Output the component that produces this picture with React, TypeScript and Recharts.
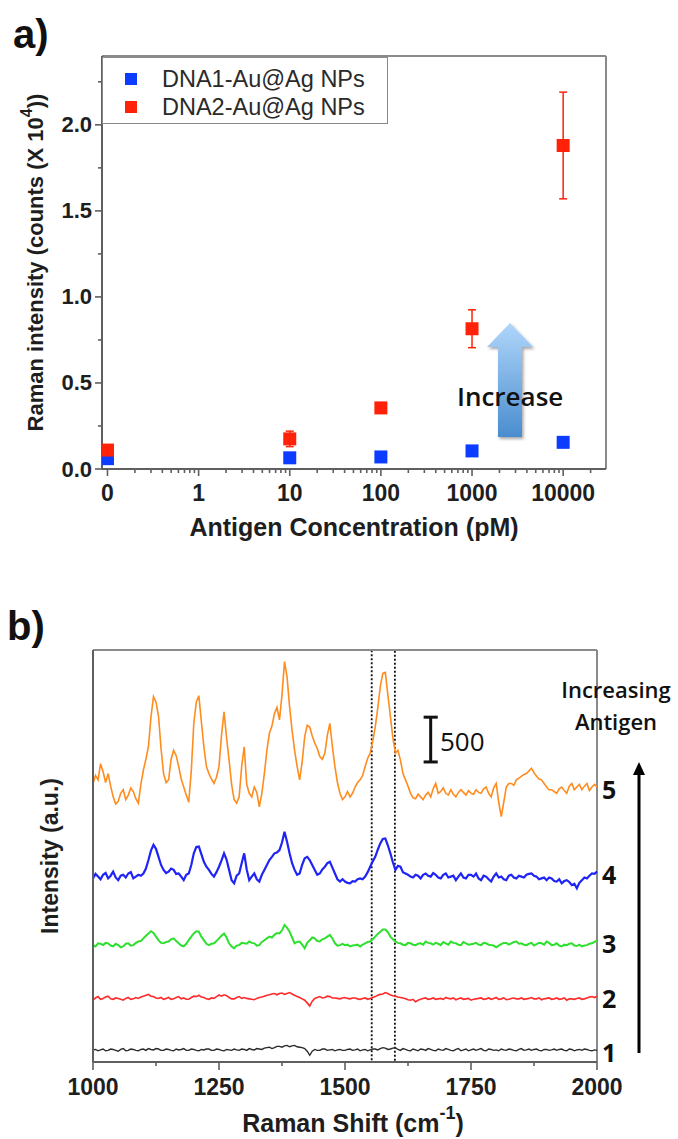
import React from 'react';
import {
  ScatterChart,
  Scatter,
  XAxis,
  YAxis,
  ZAxis,
  ErrorBar,
  Legend,
  ReferenceLine,
  ReferenceArea,
  LineChart,
  Line,
  Label,
} from 'recharts';

// ---------- panel a: Raman intensity vs antigen concentration ----------
const CONCENTRATIONS = [0, 10, 100, 1000, 10000]; // pM
const DNA1_INTENSITY = [0.06, 0.065, 0.07, 0.105, 0.155]; // counts x 10^4
const DNA1_ERROR = [0.01, 0.01, 0.01, 0.015, 0.02];
const DNA2_INTENSITY = [0.11, 0.175, 0.355, 0.815, 1.88];
const DNA2_ERROR = [0.03, 0.045, 0.015, 0.11, 0.31];
const CONC_TICKS = [0, 1, 10, 100, 1000, 10000];
const CONC_TICK_LABELS = ['0', '1', '10', '100', '1000', '10000'];
const INTENSITY_TICKS = [0, 0.5, 1.0, 1.5, 2.0];
const INTENSITY_MINOR_TICKS = [0.25, 0.75, 1.25, 1.75, 2.25];

// ---------- panel b: spectra, 1000-2000 cm-1 ----------
// readings on the 10 cm-1 grid ...
const RAMAN_SHIFT = [
  1000, 1010, 1020, 1030, 1040, 1050, 1060, 1070, 1080, 1090,
  1100, 1110, 1120, 1130, 1140, 1150, 1160, 1170, 1180, 1190,
  1200, 1210, 1220, 1230, 1240, 1250, 1260, 1270, 1280, 1290,
  1300, 1310, 1320, 1330, 1340, 1350, 1360, 1370, 1380, 1390,
  1400, 1410, 1420, 1430, 1440, 1450, 1460, 1470, 1480, 1490,
  1500, 1510, 1520, 1530, 1540, 1550, 1560, 1570, 1580, 1590,
  1600, 1610, 1620, 1630, 1640, 1650, 1660, 1670, 1680, 1690,
  1700, 1710, 1720, 1730, 1740, 1750, 1760, 1770, 1780, 1790,
  1800, 1810, 1820, 1830, 1840, 1850, 1860, 1870, 1880, 1890,
  1900, 1910, 1920, 1930, 1940, 1950, 1960, 1970, 1980, 1990,
  2000,
];
// ... and at the half steps in between
const RAMAN_SHIFT_MID = [
  1005, 1015, 1025, 1035, 1045, 1055, 1065, 1075, 1085, 1095,
  1105, 1115, 1125, 1135, 1145, 1155, 1165, 1175, 1185, 1195,
  1205, 1215, 1225, 1235, 1245, 1255, 1265, 1275, 1285, 1295,
  1305, 1315, 1325, 1335, 1345, 1355, 1365, 1375, 1385, 1395,
  1405, 1415, 1425, 1435, 1445, 1455, 1465, 1475, 1485, 1495,
  1505, 1515, 1525, 1535, 1545, 1555, 1565, 1575, 1585, 1595,
  1605, 1615, 1625, 1635, 1645, 1655, 1665, 1675, 1685, 1695,
  1705, 1715, 1725, 1735, 1745, 1755, 1765, 1775, 1785, 1795,
  1805, 1815, 1825, 1835, 1845, 1855, 1865, 1875, 1885, 1895,
  1905, 1915, 1925, 1935, 1945, 1955, 1965, 1975, 1985, 1995,
];
const SHIFT_TICKS = [1000, 1250, 1500, 1750, 2000];
const SHIFT_MINOR_TICKS = [1125, 1375, 1625, 1875];

// stacked intensities (a.u., each trace carries its own offset)
const SPECTRUM_5 = [
  3110, 3150, 3240, 3220, 2960, 2910, 3040, 2980, 3020, 2890,
  3260, 3520, 4080, 3860, 3220, 3150, 3480, 3300, 3070, 2900,
  3780, 4090, 3520, 3220, 3110, 3300, 3910, 3370, 2930, 2960,
  3520, 3000, 3070, 2850, 3220, 3670, 3890, 3820, 4470, 3970,
  3480, 3150, 3630, 3740, 3560, 3410, 3450, 3780, 3300, 3000,
  2960, 2960, 3070, 3150, 3300, 3450, 3740, 4190, 4350, 3860,
  3450, 3370, 3150, 3000, 2940, 2960, 2980, 2960, 3110, 3020,
  3000, 3040, 2960, 3040, 2980, 3000, 3040, 3000, 3070, 2960,
  3110, 2740, 3070, 3110, 3150, 3190, 3220, 3280, 3190, 3150,
  3070, 3040, 3000, 3070, 3000, 3110, 3070, 3040, 3110, 3070,
  3070,
];
const SPECTRUM_5_MID = [
  3200, 3330, 3120, 3080, 2880, 3000, 2930, 3060, 2940, 3100,
  3380, 3850, 4020, 3500, 3120, 3380, 3420, 3160, 2980, 3250,
  4020, 3800, 3300, 3160, 3180, 3650, 3620, 3100, 2890, 3300,
  3100, 2960, 3010, 3000, 3480, 3750, 3960, 4100, 4300, 3700,
  3300, 3350, 3760, 3640, 3500, 3380, 3650, 3520, 3120, 2930,
  3020, 3000, 3120, 3200, 3390, 3580, 3950, 4340, 4100, 3620,
  3480, 3220, 3080, 2950, 2990, 2930, 3010, 3050, 3000, 3060,
  2980, 2990, 3010, 3010, 3030, 2990, 3010, 3050, 3000, 3060,
  2900, 2900, 3110, 3090, 3170, 3210, 3250, 3230, 3160, 3110,
  3040, 3020, 3050, 3030, 3080, 3040, 3100, 3080, 3030, 3100,
];
const SPECTRUM_4 = [
  2050, 2070, 2090, 2050, 2125, 2030, 2090, 2105, 2050, 2090,
  2105, 2255, 2425, 2290, 2145, 2125, 2145, 2105, 2030, 2105,
  2330, 2405, 2235, 2145, 2070, 2180, 2330, 2145, 1995, 2105,
  2330, 2030, 2105, 2015, 2145, 2255, 2330, 2365, 2570, 2330,
  2145, 2105, 2275, 2255, 2145, 2105, 2180, 2235, 2105, 2015,
  2015, 1995, 2015, 2050, 2070, 2180, 2290, 2440, 2495, 2330,
  2145, 2180, 2105, 2070, 2090, 2050, 2105, 2070, 2090, 2050,
  2105, 2070, 2030, 2105, 2050, 2090, 2105, 2030, 2070, 2015,
  2105, 2070, 2030, 2090, 2050, 2070, 2090, 2105, 2070, 2050,
  2030, 2050, 2015, 1995, 2030, 1975, 1940, 2030, 2050, 2105,
  2125,
];
const SPECTRUM_4_MID = [
  2100, 2040, 2110, 2080, 2060, 2080, 2060, 2120, 2070, 2080,
  2160, 2360, 2380, 2200, 2110, 2160, 2100, 2070, 2090, 2200,
  2400, 2320, 2180, 2100, 2120, 2250, 2260, 2030, 2080, 2220,
  2150, 2070, 2040, 2090, 2200, 2290, 2340, 2450, 2460, 2220,
  2090, 2200, 2290, 2200, 2090, 2150, 2220, 2170, 2040, 2040,
  2000, 2020, 2040, 2040, 2120, 2240, 2370, 2490, 2420, 2230,
  2190, 2120, 2090, 2060, 2080, 2090, 2080, 2110, 2060, 2090,
  2060, 2080, 2070, 2060, 2090, 2070, 2050, 2080, 2040, 2070,
  2060, 2040, 2080, 2060, 2080, 2060, 2100, 2080, 2040, 2060,
  2060, 2020, 2040, 2020, 2010, 1990, 2000, 2060, 2080, 2100,
];
const SPECTRUM_3 = [
  1305, 1325, 1305, 1325, 1290, 1305, 1290, 1325, 1305, 1345,
  1380, 1435, 1440, 1360, 1325, 1345, 1380, 1325, 1290, 1360,
  1435, 1455, 1360, 1305, 1325, 1380, 1435, 1325, 1270, 1305,
  1325, 1345, 1325, 1305, 1360, 1400, 1420, 1435, 1530, 1455,
  1325, 1345, 1270, 1360, 1380, 1345, 1380, 1420, 1325, 1305,
  1305, 1290, 1305, 1290, 1325, 1345, 1400, 1455, 1480, 1400,
  1345, 1325, 1305, 1325, 1305, 1325, 1345, 1325, 1330, 1305,
  1325, 1345, 1325, 1305, 1325, 1315, 1330, 1305, 1325, 1305,
  1280, 1315, 1330, 1325, 1345, 1325, 1305, 1330, 1315, 1325,
  1345, 1305, 1325, 1290, 1305, 1325, 1295, 1290, 1305, 1325,
  1355,
];
const SPECTRUM_3_MID = [
  1290, 1320, 1330, 1300, 1320, 1280, 1320, 1300, 1330, 1350,
  1410, 1460, 1400, 1330, 1340, 1370, 1350, 1300, 1320, 1400,
  1460, 1400, 1320, 1320, 1350, 1410, 1390, 1290, 1300, 1330,
  1320, 1330, 1300, 1340, 1380, 1390, 1440, 1470, 1500, 1390,
  1340, 1310, 1330, 1390, 1350, 1370, 1400, 1380, 1300, 1320,
  1310, 1300, 1310, 1310, 1340, 1370, 1430, 1480, 1450, 1370,
  1330, 1310, 1330, 1310, 1320, 1310, 1330, 1310, 1320, 1340,
  1310, 1330, 1310, 1340, 1310, 1320, 1310, 1330, 1310, 1300,
  1300, 1330, 1310, 1340, 1320, 1310, 1320, 1300, 1330, 1310,
  1330, 1310, 1300, 1310, 1320, 1300, 1310, 1300, 1320, 1340,
];
const SPECTRUM_2 = [
  690, 730, 710, 735, 700, 710, 690, 720, 705, 710,
  735, 755, 730, 710, 700, 720, 705, 730, 715, 700,
  735, 745, 720, 700, 710, 748, 750, 720, 705, 730,
  720, 705, 695, 720, 735, 750, 765, 765, 755, 775,
  745, 720, 690, 625, 710, 730, 720, 730, 715, 705,
  720, 705, 715, 700, 715, 710, 730, 755, 775, 748,
  735, 720, 705, 690, 673, 700, 715, 705, 700, 710,
  720, 705, 695, 715, 705, 690, 705, 715, 705, 700,
  720, 705, 695, 710, 705, 715, 705, 720, 705, 695,
  710, 700, 715, 705, 690, 705, 710, 700, 715, 730,
  735,
];
const SPECTRUM_2_MID = [
  715, 700, 725, 705, 715, 700, 710, 700, 720, 725,
  745, 735, 715, 720, 710, 700, 720, 705, 700, 720,
  730, 725, 705, 715, 730, 735, 740, 705, 720, 710,
  710, 700, 710, 725, 745, 760, 750, 770, 765, 760,
  730, 705, 660, 680, 720, 715, 735, 715, 710, 715,
  710, 715, 705, 710, 700, 720, 745, 760, 765, 740,
  725, 715, 695, 700, 690, 710, 700, 715, 705, 700,
  710, 715, 705, 700, 710, 700, 710, 700, 715, 710,
  700, 715, 700, 715, 705, 700, 710, 705, 715, 705,
  715, 705, 700, 715, 705, 700, 715, 705, 725, 720,
];
const SPECTRUM_1 = [
  135, 125, 145, 130, 140, 120, 150, 130, 140, 125,
  145, 150, 135, 145, 130, 140, 125, 135, 150, 130,
  140, 125, 135, 145, 130, 140, 125, 135, 145, 130,
  140, 150, 135, 145, 155, 165, 160, 175, 180, 170,
  185, 165, 150, 75, 140, 130, 145, 135, 125, 140,
  130, 145, 135, 125, 140, 135, 145, 150, 155, 145,
  160, 130, 140, 125, 135, 145, 130, 140, 125, 135,
  150, 130, 140, 125, 145, 135, 130, 150, 125, 140,
  135, 145, 130, 140, 125, 150, 135, 130, 145, 125,
  140, 135, 130, 145, 125, 140, 135, 130, 140, 125,
  130,
];
const SPECTRUM_1_MID = [
  140, 135, 125, 145, 130, 140, 125, 145, 130, 140,
  130, 140, 150, 130, 145, 130, 145, 140, 130, 145,
  130, 140, 145, 130, 145, 130, 140, 130, 135, 145,
  130, 140, 150, 140, 160, 150, 175, 165, 185, 180,
  170, 160, 120, 120, 130, 145, 130, 140, 135, 130,
  140, 130, 145, 135, 125, 145, 135, 160, 140, 155,
  140, 150, 130, 145, 125, 140, 150, 130, 145, 130,
  140, 125, 150, 135, 125, 145, 140, 130, 145, 130,
  125, 135, 145, 130, 140, 130, 145, 140, 130, 140,
  130, 145, 140, 130, 145, 125, 140, 145, 130, 135,
];
const TRACE_LABELS = ['1', '2', '3', '4', '5'];
const SCALE_BAR_COUNTS = 500;

// ---------- styling ----------
const ARIAL = '"Liberation Sans", Arial, Helvetica, sans-serif';
const SANS = '"Open Sans", "Noto Sans", sans-serif';
const INK = '#1e1e1e';
const AXIS = '#5f5f5f';
const FRAME = '#8a8a8a';
const BLUE = '#0c3cff';
const RED = '#ff2208';
const C_ORANGE = '#ff8c1e';
const C_BLUE = '#1f24f5';
const C_GREEN = '#2ee02e';
const C_RED = '#ff2a2a';
const C_BLACK = '#2a2a2a';

// panel a layout
const A_W = 678;
const A_H = 560;
const A_LEFT = 102;
const A_TOP = 56;
const A_RIGHT = 72;
const A_XAXIS_H = 91;
const A_AXIS_Y = A_H - A_XAXIS_H;
const X_MIN = -1.06;
const X_MAX = 4.47;
const Y_MAX_A = 2.4;

// panel b layout
const B_TOP_OFFSET = 560;
const B_W = 678;
const B_H = 579;
const B_LEFT = 93;
const B_TOP = 90;
const B_RIGHT = 81;
const B_XAXIS_H = 77;
const B_AXIS_Y = B_H - B_XAXIS_H;
const Y_MAX_B = 4600;

// "0" sits one decade below 1 on the log axis
const concToLog = (c: number) => (c === 0 ? -1 : Math.log10(c));

const dna1Rows = CONCENTRATIONS.map((c, i) => ({ x: concToLog(c), y: DNA1_INTENSITY[i], err: DNA1_ERROR[i] }));
const dna2Rows = CONCENTRATIONS.map((c, i) => ({ x: concToLog(c), y: DNA2_INTENSITY[i], err: DNA2_ERROR[i] }));

const majorLogTicks = CONC_TICKS.map(concToLog);
const minorLogTicks: number[] = [];
for (let d = -1; d <= 4; d++) {
  for (let k = 2; k <= 9; k++) {
    const v = d + Math.log10(k);
    if (v <= X_MAX) minorLogTicks.push(v);
  }
}
const allLogTicks = [...majorLogTicks, ...minorLogTicks].sort((a, b) => a - b);

// interleave the grid readings with the half-step readings
const spectraRows: any[] = [];
RAMAN_SHIFT.forEach((s, i) => {
  spectraRows.push({ shift: s, s1: SPECTRUM_1[i], s2: SPECTRUM_2[i], s3: SPECTRUM_3[i], s4: SPECTRUM_4[i], s5: SPECTRUM_5[i] });
  if (i < RAMAN_SHIFT_MID.length) {
    spectraRows.push({
      shift: RAMAN_SHIFT_MID[i],
      s1: SPECTRUM_1_MID[i], s2: SPECTRUM_2_MID[i], s3: SPECTRUM_3_MID[i], s4: SPECTRUM_4_MID[i], s5: SPECTRUM_5_MID[i],
    });
  }
});
const LAST = spectraRows.length - 1;

const isMajor = (v: number, list: number[]) => list.some((m) => Math.abs(m - v) < 1e-6);

const ConcTick = (props: any) => {
  const { x, payload } = props;
  const v = payload.value;
  const major = isMajor(v, majorLogTicks);
  const idx = majorLogTicks.findIndex((m) => Math.abs(m - v) < 1e-6);
  return (
    <g>
      <line x1={x} x2={x} y1={A_AXIS_Y} y2={A_AXIS_Y + (major ? 7 : 4)} stroke={AXIS} strokeWidth={1.6} />
      {major && (
        <text x={x} y={A_AXIS_Y + 24} textAnchor="middle" dominantBaseline="central"
          fontFamily={ARIAL} fontWeight={700} fontSize={23} fill={INK}>
          {CONC_TICK_LABELS[idx]}
        </text>
      )}
    </g>
  );
};

const IntensityTick = (props: any) => {
  const { y, payload } = props;
  const v = payload.value;
  const major = isMajor(v, INTENSITY_TICKS);
  return (
    <g>
      <line x1={A_LEFT - (major ? 7 : 4)} x2={A_LEFT} y1={y} y2={y} stroke={AXIS} strokeWidth={1.6} />
      {major && (
        <text x={A_LEFT - 10} y={y} textAnchor="end" dominantBaseline="central"
          fontFamily={ARIAL} fontWeight={700} fontSize={22} fill={INK}>
          {v.toFixed(1)}
        </text>
      )}
    </g>
  );
};

const ShiftTick = (props: any) => {
  const { x, payload } = props;
  const v = payload.value;
  const major = isMajor(v, SHIFT_TICKS);
  return (
    <g>
      <line x1={x} x2={x} y1={B_AXIS_Y} y2={B_AXIS_Y + (major ? 8 : 4)} stroke={AXIS} strokeWidth={1.6} />
      {major && (
        <text x={x} y={B_AXIS_Y + 25} textAnchor="middle" dominantBaseline="central"
          fontFamily={ARIAL} fontWeight={700} fontSize={23} fill={INK}>
          {v}
        </text>
      )}
    </g>
  );
};

const SquareMarker = (p: any) => (
  <rect x={p.cx - 6.5} y={p.cy - 6.5} width={13} height={13} fill={p.fill} />
);

const LegendBox = (props: any) => {
  const items = props.payload || [];
  return (
    <div style={{
      position: 'relative', boxSizing: 'border-box', width: 286, height: 67,
      border: `1.5px solid ${FRAME}`, background: '#fff',
    }}>
      {items.map((it: any, i: number) => (
        <div key={i} style={{ position: 'absolute', left: 0, top: 7 + i * 28, height: 28, display: 'flex', alignItems: 'center' }}>
          <span style={{ display: 'inline-block', width: 12, height: 12, marginLeft: 22, background: it.color }} />
          <span style={{ marginLeft: 25, fontFamily: ARIAL, fontSize: 23.5, color: '#2a2a2a', whiteSpace: 'nowrap' }}>{it.value}</span>
        </div>
      ))}
    </div>
  );
};

const AxisTitleA = (props: any) => {
  const vb = props.viewBox || {};
  const cx = 35;
  const cy = vb.y + vb.height / 2;
  return (
    <text x={cx} y={cy} transform={`rotate(-90, ${cx}, ${cy})`} textAnchor="middle" dominantBaseline="central"
      fontFamily={ARIAL} fontWeight={700} fontSize={22} fill={INK}>
      Raman intensity (counts (X 10<tspan dy={-9} fontSize={16}>4</tspan><tspan dy={9}>))</tspan>
    </text>
  );
};

const XTitleA = (props: any) => {
  const vb = props.viewBox || {};
  const cx = vb.x + vb.width / 2;
  return (
    <text x={cx} y={A_AXIS_Y + 58} textAnchor="middle" dominantBaseline="central"
      fontFamily={ARIAL} fontWeight={700} fontSize={25} fill={INK}>
      Antigen Concentration (pM)
    </text>
  );
};

const AxisTitleB = (props: any) => {
  const vb = props.viewBox || {};
  const cx = 50;
  const cy = vb.y + vb.height / 2;
  return (
    <text x={cx} y={cy} transform={`rotate(-90, ${cx}, ${cy})`} textAnchor="middle" dominantBaseline="central"
      fontFamily={ARIAL} fontWeight={700} fontSize={23} fill={INK}>
      Intensity (a.u.)
    </text>
  );
};

const XTitleB = (props: any) => {
  const vb = props.viewBox || {};
  const cx = vb.x + vb.width / 2;
  return (
    <text x={cx + 8} y={B_AXIS_Y + 61} textAnchor="middle" dominantBaseline="central"
      fontFamily={ARIAL} fontWeight={700} fontSize={25} fill={INK}>
      Raman Shift (cm<tspan dy={-10} fontSize={18}>-1</tspan><tspan dy={10}>)</tspan>
    </text>
  );
};

// number to the right of the last point of each trace
const traceLabel = (text: string) => (p: any) => {
  if (p.index !== LAST) return null;
  const x = p.x ?? p.viewBox?.x;
  const y = p.y ?? p.viewBox?.y;
  return (
    <text x={x + 5} y={y + 2} dominantBaseline="central" fontFamily={SANS} fontWeight={700} fontSize={25} fill="#111">
      {text}
    </text>
  );
};

const SCALE_X = 1670;
const SCALE_Y0 = 3350;

export default function App() {
  return (
    <div style={{ position: 'absolute', left: 0, top: 0, width: 678, height: 1139, background: '#fff', overflow: 'hidden' }}>
      <div style={{ position: 'absolute', left: 0, top: 0 }}>
        <ScatterChart width={A_W} height={A_H} margin={{ top: A_TOP, right: A_RIGHT, bottom: 0, left: 0 }}>
          <XAxis type="number" dataKey="x" domain={[X_MIN, X_MAX]} ticks={allLogTicks} interval={0}
            allowDataOverflow height={A_XAXIS_H} tickLine={false} tick={ConcTick}
            axisLine={{ stroke: AXIS, strokeWidth: 2 }}>
            <Label content={XTitleA} />
          </XAxis>
          <YAxis type="number" dataKey="y" domain={[0, Y_MAX_A]} ticks={[...INTENSITY_TICKS, ...INTENSITY_MINOR_TICKS].sort((a, b) => a - b)}
            interval={0} allowDataOverflow width={A_LEFT} tickLine={false} tick={IntensityTick}
            axisLine={{ stroke: AXIS, strokeWidth: 2 }}>
            <Label content={AxisTitleA} />
          </YAxis>
          <ZAxis range={[169, 169]} />
          <ReferenceLine y={Y_MAX_A} stroke={FRAME} strokeWidth={2} />
          <ReferenceLine x={X_MAX} stroke={FRAME} strokeWidth={2} />
          <Scatter name="DNA1-Au@Ag NPs" data={dna1Rows} fill={BLUE} shape={SquareMarker} isAnimationActive={false}>
            <ErrorBar dataKey="err" direction="y" width={4} stroke={BLUE} strokeWidth={1.5} isAnimationActive={false} />
          </Scatter>
          <Scatter name="DNA2-Au@Ag NPs" data={dna2Rows} fill={RED} shape={SquareMarker} isAnimationActive={false}>
            <ErrorBar dataKey="err" direction="y" width={4} stroke={RED} strokeWidth={1.5} isAnimationActive={false} />
          </Scatter>
          <Legend layout="vertical" align="center" verticalAlign="middle" content={LegendBox}
            wrapperStyle={{ position: 'absolute', left: A_LEFT, top: A_TOP + 1, width: 286, height: 67 }} />
        </ScatterChart>
      </div>

      <div style={{ position: 'absolute', left: 0, top: B_TOP_OFFSET }}>
        <LineChart width={B_W} height={B_H} data={spectraRows} margin={{ top: B_TOP, right: B_RIGHT, bottom: 0, left: 0 }}>
          <XAxis type="number" dataKey="shift" domain={[1000, 2000]} ticks={[...SHIFT_TICKS, ...SHIFT_MINOR_TICKS].sort((a, b) => a - b)}
            interval={0} height={B_XAXIS_H} tickLine={false} tick={ShiftTick}
            axisLine={{ stroke: AXIS, strokeWidth: 2 }}>
            <Label content={XTitleB} />
          </XAxis>
          <YAxis type="number" domain={[0, Y_MAX_B]} width={B_LEFT} tick={false} tickLine={false}
            axisLine={{ stroke: AXIS, strokeWidth: 2 }}>
            <Label content={AxisTitleB} />
          </YAxis>
          <ReferenceLine y={Y_MAX_B} stroke={FRAME} strokeWidth={2} />
          <ReferenceLine x={2000} stroke={FRAME} strokeWidth={2} />
          <ReferenceArea x1={1553} x2={1599} y1={0} y2={Y_MAX_B} fill="none" fillOpacity={0}
            stroke="#111" strokeWidth={1.8} strokeDasharray="2 2" />
          <Line dataKey="s5" stroke={C_ORANGE} strokeWidth={1.6} dot={false} isAnimationActive={false} label={traceLabel(TRACE_LABELS[4])} />
          <Line dataKey="s4" stroke={C_BLUE} strokeWidth={2.2} dot={false} isAnimationActive={false} label={traceLabel(TRACE_LABELS[3])} />
          <Line dataKey="s3" stroke={C_GREEN} strokeWidth={2} dot={false} isAnimationActive={false} label={traceLabel(TRACE_LABELS[2])} />
          <Line dataKey="s2" stroke={C_RED} strokeWidth={1.6} dot={false} isAnimationActive={false} label={traceLabel(TRACE_LABELS[1])} />
          <Line dataKey="s1" stroke={C_BLACK} strokeWidth={1.4} dot={false} isAnimationActive={false} label={traceLabel(TRACE_LABELS[0])} />
          {/* 500-count scale bar */}
          <ReferenceLine segment={[{ x: SCALE_X, y: SCALE_Y0 }, { x: SCALE_X, y: SCALE_Y0 + SCALE_BAR_COUNTS }]} stroke="#111" strokeWidth={3} />
          <ReferenceLine segment={[{ x: SCALE_X - 14, y: SCALE_Y0 }, { x: SCALE_X + 14, y: SCALE_Y0 }]} stroke="#111" strokeWidth={3} />
          <ReferenceLine segment={[{ x: SCALE_X - 14, y: SCALE_Y0 + SCALE_BAR_COUNTS }, { x: SCALE_X + 14, y: SCALE_Y0 + SCALE_BAR_COUNTS }]} stroke="#111" strokeWidth={3} />
        </LineChart>
      </div>

      {/* panel letters and annotations */}
      <svg width={678} height={1139} style={{ position: 'absolute', left: 0, top: 0, pointerEvents: 'none' }}>
        <defs>
          <linearGradient id="upArrow" x1="0" y1="0" x2="0" y2="1">
            <stop offset="0%" stopColor="#b0d6fa" />
            <stop offset="100%" stopColor="#4a8dcf" />
          </linearGradient>
          <filter id="arrowShadow" x="-30%" y="-30%" width="160%" height="160%">
            <feDropShadow dx="1.5" dy="2" stdDeviation="1.5" floodColor="#000" floodOpacity="0.35" />
          </filter>
        </defs>
        <text x={13} y={48} fontFamily={ARIAL} fontWeight={700} fontSize={40} fill="#111">a)</text>
        <text x={7} y={640} fontFamily={ARIAL} fontWeight={700} fontSize={40} fill="#111">b)</text>

        <path d="M510,323 L533,347 L522,347 L522,437 L498,437 L498,347 L487,347 Z"
          fill="url(#upArrow)" filter="url(#arrowShadow)" />
        <text x={457} y={406} fontFamily={SANS} fontWeight={600} fontSize={26} fill="#111">Increase</text>

        <text x={616} y={698} textAnchor="middle" fontFamily={SANS} fontWeight={600} fontSize={22} fill="#111">Increasing</text>
        <text x={616} y={730} textAnchor="middle" fontFamily={SANS} fontWeight={600} fontSize={22} fill="#111">Antigen</text>
        <line x1={639} y1={1053} x2={639} y2={772} stroke="#000" strokeWidth={3} />
        <polygon points="633,775 639,762 645,775" fill="#000" />

        <text x={440} y={751} fontFamily={SANS} fontWeight={500} fontSize={26} fill="#111">500</text>
      </svg>
    </div>
  );
}
